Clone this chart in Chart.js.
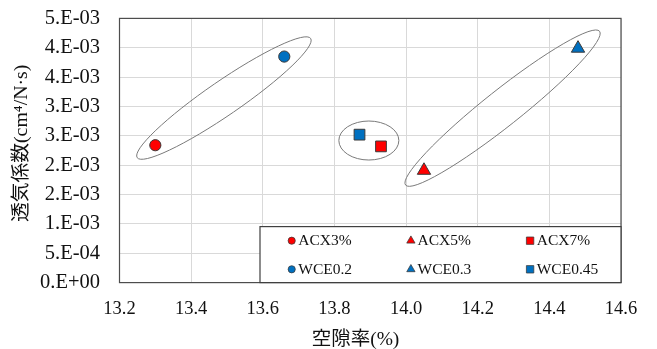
<!DOCTYPE html>
<html><head><meta charset="utf-8">
<script src="https://cdn.jsdelivr.net/npm/chart.js@4"></script>
<style>html,body{margin:0;padding:0;background:#fff}canvas{display:block}</style>
</head><body><canvas id="c" width="657" height="349"></canvas>
<script>
// ---- data ----
const seriesNames = ['ACX3%', 'ACX5%', 'ACX7%', 'WCE0.2', 'WCE0.3', 'WCE0.45'];
const voidRatio = [13.30, 14.05, 13.93, 13.66, 14.48, 13.87];
const permeability = [0.00234, 0.00191, 0.00232, 0.00385, 0.00399, 0.00252];
const xTickLabels = ['13.2', '13.4', '13.6', '13.8', '14.0', '14.2', '14.4', '14.6'];
const yTickLabels = ['0.E+00', '5.E-04', '1.E-03', '2.E-03', '2.E-03', '3.E-03', '3.E-03', '4.E-03', '4.E-03', '5.E-03'];
const xTitle = '空隙率(%)';
const yTitle = '透気係数(cm⁴/N·s)';
const ellipseGroups = [[0, 3], [2, 5], [1, 4]];

// ---- styles ----
const seriesColors = ['#ff0000', '#ff0000', '#ff0000', '#0070c0', '#0070c0', '#0070c0'];
const seriesShapes = ['circle', 'triangle', 'rect', 'circle', 'triangle', 'rect'];
const shapeRadius = { circle: 5.6, triangle: 7.7, rect: 7.6 };
const ellipseStyles = [
  { pad: 27, minor: 17, shift: 5 },
  { level: true, halfW: 30, halfH: 19.5, shift: -1.4 },
  { pad: 25.5, minor: 18, shift: 2 }
];
const SERIF = '"Liberation Serif", "Noto Sans CJK JP", serif';

function drawMarker(ctx, shape, x, y, s, fill) {
  ctx.beginPath();
  if (shape === 'circle') {
    ctx.arc(x, y, s, 0, Math.PI * 2);
  } else if (shape === 'triangle') {
    ctx.moveTo(x, y - s);
    ctx.lineTo(x + s * 0.866, y + s * 0.5);
    ctx.lineTo(x - s * 0.866, y + s * 0.5);
    ctx.closePath();
  } else {
    ctx.rect(x - s, y - s, 2 * s, 2 * s);
  }
  ctx.fillStyle = fill;
  ctx.fill();
  ctx.strokeStyle = '#3a3a3a';
  ctx.lineWidth = 0.75;
  ctx.stroke();
}

const framePlugin = {
  id: 'frame',
  beforeDatasetsDraw(chart) {
    const ctx = chart.ctx, ca = chart.chartArea;
    ctx.save();
    ctx.strokeStyle = '#7a7a7a';
    ctx.lineWidth = 1;
    ellipseGroups.forEach((g, k) => {
      const st = ellipseStyles[k];
      const p = g.map(i => chart.getDatasetMeta(i).data[0]);
      let mx = (p[0].x + p[1].x) / 2, my = (p[0].y + p[1].y) / 2;
      let rx, ry, ang;
      if (st.level) {
        ang = 0; rx = st.halfW; ry = st.halfH;
      } else {
        const dx = p[1].x - p[0].x, dy = p[1].y - p[0].y;
        ang = Math.atan2(dy, dx);
        rx = Math.hypot(dx, dy) / 2 + st.pad;
        ry = st.minor;
      }
      mx += Math.cos(ang) * st.shift; my += Math.sin(ang) * st.shift;
      ctx.beginPath();
      ctx.ellipse(mx, my, rx, ry, ang, 0, Math.PI * 2);
      ctx.stroke();
    });
    ctx.strokeStyle = '#4d4d4d';
    ctx.lineWidth = 1.2;
    ctx.strokeRect(ca.left, ca.top, ca.right - ca.left, ca.bottom - ca.top);
    ctx.restore();
  },
  afterDatasetsDraw(chart) {
    const ctx = chart.ctx, ca = chart.chartArea;
    const w = 361, h = 56;
    const L = ca.right - w, T = ca.bottom - h;
    ctx.save();
    ctx.fillStyle = '#fff';
    ctx.fillRect(L, T, w, h);
    ctx.strokeStyle = '#404040';
    ctx.lineWidth = 1.2;
    ctx.strokeRect(L, T, w, h);
    ctx.font = '15.5px ' + SERIF;
    ctx.textBaseline = 'middle';
    ctx.textAlign = 'left';
    const legendSize = { circle: 3.6, triangle: 4.8, rect: 3.7 };
    seriesNames.forEach((n, i) => {
      const col = i % 3, row = Math.floor(i / 3);
      const cx = L + 31.7 + col * 119.2;
      const cy = T + 14.1 + row * 28.6;
      drawMarker(ctx, seriesShapes[i], cx, cy, legendSize[seriesShapes[i]], seriesColors[i]);
      ctx.fillStyle = '#111';
      ctx.fillText(n, cx + 6.6, cy + 0.5);
    });
    // axis titles
    ctx.fillStyle = '#111';
    ctx.textAlign = 'center';
    ctx.textBaseline = 'middle';
    ctx.font = '19.5px ' + SERIF;
    ctx.fillText(xTitle, ca.left + 236, ca.bottom + 57);
    ctx.translate(22, ca.top + 125);
    ctx.rotate(-Math.PI / 2);
    ctx.font = '19.8px ' + SERIF;
    ctx.fillText(yTitle, 0, 0);
    ctx.restore();
  }
};

new Chart(document.getElementById('c'), {
  type: 'scatter',
  data: {
    datasets: seriesNames.map((n, i) => ({
      label: n,
      data: [{ x: voidRatio[i], y: permeability[i] }],
      pointStyle: seriesShapes[i],
      pointRadius: shapeRadius[seriesShapes[i]],
      pointHoverRadius: shapeRadius[seriesShapes[i]],
      backgroundColor: seriesColors[i],
      borderColor: '#3a3a3a',
      borderWidth: 1
    }))
  },
  options: {
    responsive: false,
    animation: false,
    events: [],
    layout: { padding: { top: 18.4, right: 36, left: 0, bottom: 0 } },
    plugins: { legend: { display: false }, tooltip: { enabled: false } },
    scales: {
      x: {
        type: 'linear', min: 13.2, max: 14.6,
        ticks: {
          stepSize: 0.2, autoSkip: false, maxRotation: 0,
          callback: (v, i) => xTickLabels[i],
          font: { family: SERIF, size: 18.5 }, color: '#111', padding: 15
        },
        grid: { color: '#d9d9d9', drawTicks: false },
        border: { display: false },
        title: { display: false },
        afterFit(s) { s.height = 66.4; s.paddingLeft = 0; s.paddingRight = 0; }
      },
      y: {
        type: 'linear', min: 0, max: 0.0045,
        ticks: {
          stepSize: 0.0005, autoSkip: false,
          callback: (v, i) => yTickLabels[i],
          font: { family: SERIF, size: 20.5 }, color: '#111', padding: 19.5
        },
        grid: { color: '#d9d9d9', drawTicks: false },
        border: { display: false },
        title: { display: false },
        afterFit(s) { s.width = 119.5; s.paddingTop = 0; s.paddingBottom = 0; }
      }
    }
  },
  plugins: [framePlugin]
});
</script>
</body></html>
